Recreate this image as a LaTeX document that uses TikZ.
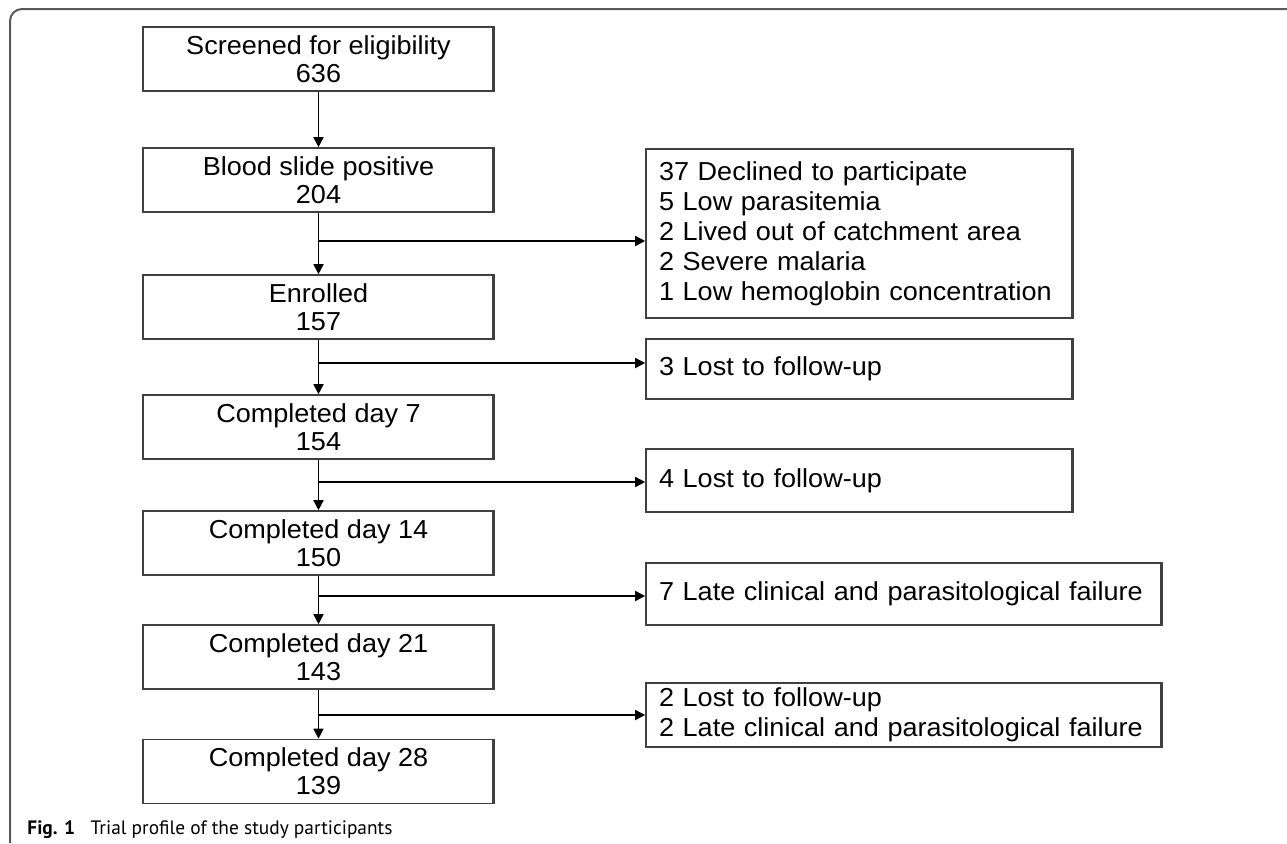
\documentclass[tikz,border=0pt]{standalone}
\usepackage{fontspec}
\setmainfont{Liberation Sans}[FakeStretch=1.04]
\newfontfamily\capfont{PT Sans}
\usetikzlibrary{arrows.meta}

\tikzset{
  flowbox/.style={draw=black!75, line width=0.8pt, fill=white, inner sep=0pt,
    path picture={\draw[black!75, line width=2.2pt] (path picture bounding box.north east) -- (path picture bounding box.south east);}},
  leftbox/.style={flowbox, align=center, minimum width=175.5pt, minimum height=32pt, font=\fontsize{13}{14}\selectfont},
  sidebox/.style={flowbox, align=left, inner xsep=6.5pt, font=\fontsize{13}{15}\selectfont},
  arr/.style={-{Triangle[length=5pt,width=5pt]}, line width=0.8pt}
}

\begin{document}
\begin{tikzpicture}[x=0.5pt,y=-0.5pt]
\useasboundingbox (0,0) rectangle (1287,843);
\draw[black!65, line width=1pt, rounded corners=6pt] (10,843) -- (10,9) -- (1287,9);

\node[leftbox] (screen) at (318.5,59) {Screened for eligibility\\636};
\node[leftbox] (blood) at (318.5,180) {Blood slide positive\\204};
\node[leftbox] (enrol) at (318.5,307) {Enrolled\\157};
\node[leftbox] (day7) at (318.5,427) {Completed day 7\\154};
\node[leftbox] (day14) at (318.5,543) {Completed day 14\\150};
\node[leftbox] (day21) at (318.5,657) {Completed day 21\\143};
\node[leftbox] (day28) at (318.5,771.5) {Completed day 28\\139};

\node[sidebox, text width=200.5pt, minimum height=84.5pt] (excl) at (859.5,233.5) {37 Declined to participate\\5 Low parasitemia\\2 Lived out of catchment area\\2 Severe malaria\\1 Low hemoglobin concentration};
\node[sidebox, text width=200.5pt, minimum height=30pt] (lost3) at (859.5,369) {3 Lost to follow-up};
\node[sidebox, text width=200.5pt, minimum height=31.5pt] (lost4) at (859.5,480.5) {4 Lost to follow-up};
\node[sidebox, text width=245pt, minimum height=31pt] (late7) at (904,594) {7 Late clinical and parasitological failure};
\node[sidebox, text width=245pt, minimum height=32pt] (late2) at (904,715) {2 Lost to follow-up\\2 Late clinical and parasitological failure};

\draw[arr] (screen) -- (blood);
\draw[arr] (blood) -- (enrol);
\draw[arr] (enrol) -- (day7);
\draw[arr] (day7) -- (day14);
\draw[arr] (day14) -- (day21);
\draw[arr] (day21) -- (day28);

\coordinate (br1) at (318.5,241);
\coordinate (br2) at (318.5,363);
\coordinate (br3) at (318.5,482);
\coordinate (br4) at (318.5,596);
\coordinate (br5) at (318.5,715);
\draw[arr] (br1) -- (br1 -| excl.west);
\draw[arr] (br2) -- (br2 -| lost3.west);
\draw[arr] (br3) -- (br3 -| lost4.west);
\draw[arr] (br4) -- (br4 -| late7.west);
\draw[arr] (br5) -- (br5 -| late2.west);

\node[anchor=base west, inner sep=0pt, font=\capfont\fontsize{9.7}{11}\selectfont] (cap) at (27,834) {\textbf{Fig. 1}\hspace{0.8em}Trial profile of the study participants};
\end{tikzpicture}
\end{document}
